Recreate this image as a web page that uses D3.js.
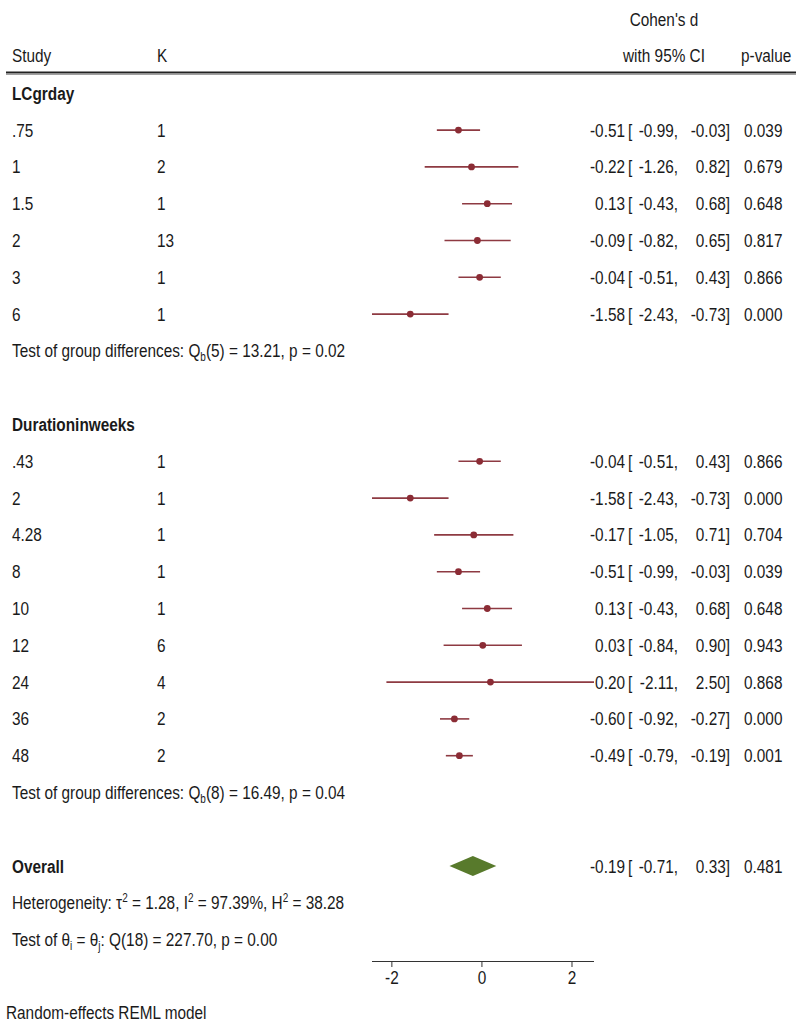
<!DOCTYPE html>
<html>
<head>
<meta charset="utf-8">
<script src="https://cdn.jsdelivr.net/npm/d3@7"></script>
<style>
  html, body { margin: 0; padding: 0; background: #fff; }
  svg { display: block; }
  text { font-family: "Liberation Sans", Arial, sans-serif; font-size: 18.5px; fill: #1a1a1a; }
  .bold { font-weight: bold; }
</style>
</head>
<body>
<script>
// Subgroup 1: LCgrday
const lcLabels = [".75", "1", "1.5", "2", "3", "6"];
const lcK      = [1, 2, 1, 13, 1, 1];
const lcEst    = [-0.51, -0.22, 0.13, -0.09, -0.04, -1.58];
const lcLow    = [-0.99, -1.26, -0.43, -0.82, -0.51, -2.43];
const lcHigh   = [-0.03, 0.82, 0.68, 0.65, 0.43, -0.73];
const lcP      = ["0.039", "0.679", "0.648", "0.817", "0.866", "0.000"];

// Subgroup 2: Durationinweeks
const durLabels = [".43", "2", "4.28", "8", "10", "12", "24", "36", "48"];
const durK      = [1, 1, 1, 1, 1, 6, 4, 2, 2];
const durEst    = [-0.04, -1.58, -0.17, -0.51, 0.13, 0.03, 0.20, -0.60, -0.49];
const durLow    = [-0.51, -2.43, -1.05, -0.99, -0.43, -0.84, -2.11, -0.92, -0.79];
const durHigh   = [0.43, -0.73, 0.71, -0.03, 0.68, 0.90, 2.50, -0.27, -0.19];
const durP      = ["0.866", "0.000", "0.704", "0.039", "0.648", "0.943", "0.868", "0.000", "0.001"];

// Overall pooled estimate
const overallEst = -0.19, overallLow = -0.71, overallHigh = 0.33, overallP = "0.481";

// Axis ticks
const xTicks = [-2, 0, 2];

const W = 796, H = 1027;
const svg = d3.select("body").append("svg").attr("width", W).attr("height", H);

const x = d3.scaleLinear().domain([-2.43, 2.50]).range([372, 594]);
const rowY = i => 93.3 + i * 36.8;
const BASE = 6.5;
const SQUEEZE = 0.83; // horizontal condensing of all labels

const ciColor = "#8e3a42", dotColor = "#8b2c35", diamondColor = "#587a2c";
// plain hyphen-minus, as in the printed table
const fmt = v => d3.format(".2f")(v).replace("\u2212", "-");

const colStudy = 12, colK = 157, colEst = 625, colBr = 628, colLo = 678, colHi = 730, colP = 744;

// Header
svg.append("text").attr("x", 664).attr("y", 20 + BASE).attr("text-anchor", "middle").text("Cohen's d");
svg.append("text").attr("x", 664).attr("y", 56 + BASE).attr("text-anchor", "middle").text("with 95% CI");
svg.append("text").attr("x", colStudy).attr("y", 56 + BASE).text("Study");
svg.append("text").attr("x", colK).attr("y", 56 + BASE).text("K");
svg.append("text").attr("x", 741).attr("y", 56 + BASE).text("p-value");
svg.append("line").attr("x1", 6).attr("x2", W).attr("y1", 72.5).attr("y2", 72.5)
  .attr("stroke", "#222").attr("stroke-width", 2);
svg.append("line").attr("x1", 6).attr("x2", W).attr("y1", 74.5).attr("y2", 74.5)
  .attr("stroke", "#888").attr("stroke-width", 0.8);

function statsText(y, est, lo, hi, p) {
  svg.append("text").attr("x", colEst).attr("y", y + BASE).attr("text-anchor", "end").text(fmt(est));
  svg.append("text").attr("x", colBr).attr("y", y + BASE).text("[");
  svg.append("text").attr("x", colLo).attr("y", y + BASE).attr("text-anchor", "end").text(fmt(lo) + ",");
  svg.append("text").attr("x", colHi).attr("y", y + BASE).attr("text-anchor", "end").text(fmt(hi) + "]");
  svg.append("text").attr("x", colP).attr("y", y + BASE).text(p);
}

function drawGroup(startRow, title, labels, ks, est, lo, hi, ps) {
  svg.append("text").attr("class", "bold").attr("x", colStudy).attr("y", rowY(startRow) + BASE).text(title);
  const rows = labels.map((l, i) => ({ l, k: ks[i], e: est[i], lo: lo[i], hi: hi[i], p: ps[i], y: rowY(startRow + 1 + i) }));
  const g = svg.append("g");
  g.selectAll("line.ci").data(rows).join("line").attr("class", "ci")
    .attr("x1", d => x(d.lo)).attr("x2", d => x(d.hi))
    .attr("y1", d => d.y).attr("y2", d => d.y)
    .attr("stroke", ciColor).attr("stroke-width", 1.6);
  g.selectAll("circle").data(rows).join("circle")
    .attr("cx", d => x(d.e)).attr("cy", d => d.y).attr("r", 3.4).attr("fill", dotColor);
  rows.forEach(d => {
    svg.append("text").attr("x", colStudy).attr("y", d.y + BASE).text(d.l);
    svg.append("text").attr("x", colK).attr("y", d.y + BASE).text(d.k);
    statsText(d.y, d.e, d.lo, d.hi, d.p);
  });
  return startRow + 1 + labels.length;
}

// Text line with sub/superscripts: parts = [[text, kind]] where kind is "sub", "sup" or undefined
function richText(xp, y, parts) {
  const t = svg.append("text").attr("x", xp).attr("y", y + BASE);
  let shift = 0;
  parts.forEach(([s, kind]) => {
    const target = kind === "sub" ? 4 : kind === "sup" ? -7.5 : 0;
    const sp = t.append("tspan").attr("dy", target - shift).text(s);
    if (kind) sp.style("font-size", "12px");
    shift = target;
  });
}

let r = drawGroup(0, "LCgrday", lcLabels, lcK, lcEst, lcLow, lcHigh, lcP);
richText(colStudy, rowY(r), [["Test of group differences: Q"], ["b", "sub"], ["(5) = 13.21, p = 0.02"]]);

r = drawGroup(r + 2, "Durationinweeks", durLabels, durK, durEst, durLow, durHigh, durP);
richText(colStudy, rowY(r), [["Test of group differences: Q"], ["b", "sub"], ["(8) = 16.49, p = 0.04"]]);

// Overall
const oy = rowY(r + 2);
svg.append("text").attr("class", "bold").attr("x", colStudy).attr("y", oy + BASE).text("Overall");
svg.append("path")
  .attr("d", `M${x(overallLow)},${oy} L${x(overallEst)},${oy - 10} L${x(overallHigh)},${oy} L${x(overallEst)},${oy + 10} Z`)
  .attr("fill", diamondColor);
statsText(oy, overallEst, overallLow, overallHigh, overallP);

richText(colStudy, rowY(r + 3), [["Heterogeneity: \u03C4"], ["2", "sup"], [" = 1.28, I"], ["2", "sup"], [" = 97.39%, H"], ["2", "sup"], [" = 38.28"]]);
richText(colStudy, rowY(r + 4), [["Test of \u03B8"], ["i", "sub"], [" = \u03B8"], ["j", "sub"], [": Q(18) = 227.70, p = 0.00"]]);

// X axis
const axisY = 961;
const axis = svg.append("g").attr("transform", `translate(0,${axisY})`)
  .call(d3.axisBottom(x).tickValues(xTicks).tickSize(6).tickPadding(4).tickFormat(d => fmt(d).replace(".00", "")));
axis.select(".domain").attr("stroke", "#333").attr("stroke-width", 1.2).attr("d", `M${x(-2.43)},0.5H${x(2.5)}`);
axis.selectAll(".tick line").attr("stroke", "#333");
axis.selectAll(".tick text")
  .style("font-family", "'Liberation Sans', Arial, sans-serif")
  .style("font-size", "18.5px").attr("fill", "#1a1a1a");

svg.append("text").attr("x", 6).attr("y", 1019).text("Random-effects REML model");

// Condense every label horizontally around its anchor point
svg.selectAll("text").each(function () {
  const ax = +(this.getAttribute("x") || 0);
  d3.select(this).attr("transform", `translate(${ax},0) scale(${SQUEEZE},1) translate(${-ax},0)`);
});
</script>
</body>
</html>
